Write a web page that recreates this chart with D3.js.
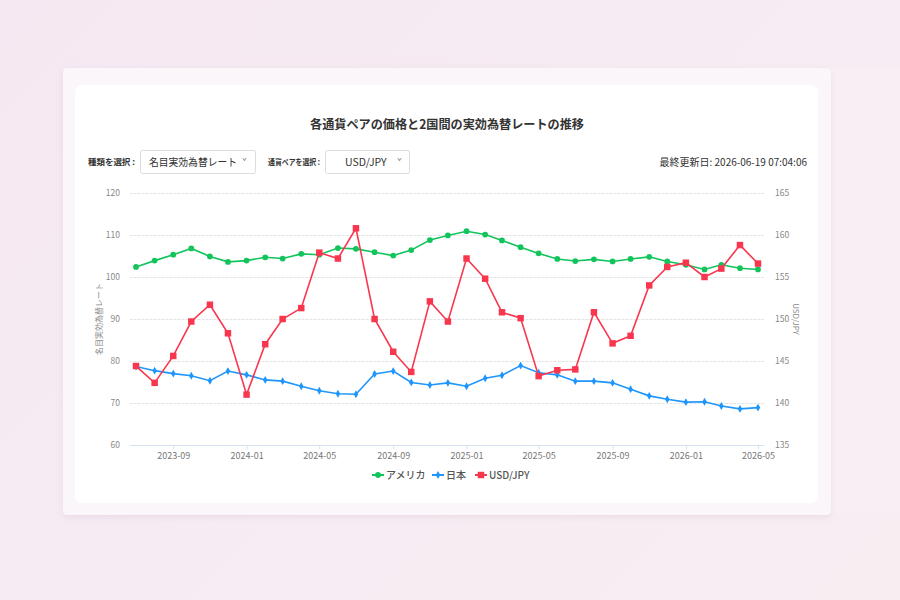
<!DOCTYPE html>
<html>
<head>
    <meta charset="utf-8">
    <title>実効為替レートの推移</title>
    <script src="https://d3js.org/d3.v7.min.js"></script>
    <style>
        html, body { margin: 0; padding: 0; }
        body { width: 900px; height: 600px; overflow: hidden;
               background: linear-gradient(135deg, #f5e8f2 0%, #f6ecf3 60%, #f7eef2 100%); }
        svg text { font-family: "Noto Sans CJK JP", "Noto Sans", sans-serif; }
    </style>
</head>
<body>
    <script>
        // data
        var months = ["2023-07","2023-08","2023-09","2023-10","2023-11","2023-12",
            "2024-01","2024-02","2024-03","2024-04","2024-05","2024-06","2024-07","2024-08","2024-09","2024-10","2024-11","2024-12",
            "2025-01","2025-02","2025-03","2025-04","2025-05","2025-06","2025-07","2025-08","2025-09","2025-10","2025-11","2025-12",
            "2026-01","2026-02","2026-03","2026-04","2026-05"];
        var usa = [102.4,103.9,105.3,106.8,104.9,103.6,103.9,104.7,104.4,105.5,105.3,106.9,106.7,105.9,105.1,106.4,108.8,109.9,
            110.9,110.1,108.7,107.1,105.6,104.3,103.8,104.2,103.7,104.3,104.8,103.7,102.9,101.8,102.9,102.1,101.8];
        var japan = [78.7,77.7,77.0,76.5,75.3,77.6,76.7,75.5,75.2,74.0,72.9,72.2,72.1,76.9,77.6,74.9,74.3,74.8,
            74.0,75.9,76.6,78.9,77.2,76.7,75.2,75.2,74.8,73.3,71.7,70.9,70.2,70.3,69.3,68.6,68.9];
        var usdjpy = [144.4,142.4,145.6,149.7,151.7,148.3,141.0,147.0,150.0,151.3,157.9,157.2,160.8,150.0,146.1,143.7,152.1,149.7,
            157.2,154.8,150.8,150.1,143.2,143.9,144.0,150.8,147.1,148.0,154.0,156.2,156.7,155.0,156.0,158.8,156.6];
        var leftTicks = [60,70,80,90,100,110,120];
        var rightTicks = [135,140,145,150,155,160,165];

        var green = "#12c45c", blue = "#1e96fc", red = "#f8374f";

        var width = 900, height = 600;
        var parse = d3.timeParse("%Y-%m");
        var dates = months.map(parse);

        var svg = d3.select("body").append("svg")
            .attr("width", width)
            .attr("height", height);

        // cards
        var defs = svg.append("defs");
        var f = defs.append("filter").attr("id", "sh").attr("x", "-10%").attr("y", "-10%").attr("width", "120%").attr("height", "120%");
        f.append("feDropShadow").attr("dx", 0).attr("dy", 2).attr("stdDeviation", 3).attr("flood-color", "#c9a9be").attr("flood-opacity", 0.25);

        svg.append("rect").attr("x", 831).attr("y", 68).attr("width", 69).attr("height", 445).attr("fill", "#f8eff4");
        svg.append("rect").attr("x", 63).attr("y", 68).attr("width", 768).attr("height", 447).attr("rx", 4)
            .attr("fill", "#fbf6f9").attr("filter", "url(#sh)");
        svg.append("rect").attr("x", 75).attr("y", 85).attr("width", 743).attr("height", 418).attr("rx", 7)
            .attr("fill", "#ffffff");

        // header
        svg.append("text").attr("x", 447).attr("y", 129).attr("text-anchor", "middle")
            .attr("font-size", 12.5).attr("font-weight", "bold").attr("fill", "#333")
            .attr("textLength", 274).attr("lengthAdjust", "spacingAndGlyphs")
            .text("各通貨ペアの価格と2国間の実効為替レートの推移");

        svg.append("text").attr("x", 88).attr("y", 165).attr("font-size", 8.5).attr("font-weight", "bold").attr("fill", "#333")
            .attr("textLength", 47).attr("lengthAdjust", "spacingAndGlyphs")
            .text("種類を選択 :");
        svg.append("rect").attr("x", 140.5).attr("y", 150.5).attr("width", 115).attr("height", 23).attr("rx", 2)
            .attr("fill", "#fff").attr("stroke", "#dcdcdc");
        svg.append("text").attr("x", 149).attr("y", 166).attr("font-size", 10.5).attr("fill", "#333")
            .attr("textLength", 88).attr("lengthAdjust", "spacingAndGlyphs")
            .text("名目実効為替レート");
        svg.append("text").attr("x", 242).attr("y", 165).attr("font-size", 8).attr("fill", "#777").text("ˇ");

        svg.append("text").attr("x", 268).attr("y", 165).attr("font-size", 8.5).attr("font-weight", "bold").attr("fill", "#333")
            .attr("textLength", 52).attr("lengthAdjust", "spacingAndGlyphs")
            .text("通貨ペアを選択 :");
        svg.append("rect").attr("x", 325.5).attr("y", 150.5).attr("width", 84).attr("height", 23).attr("rx", 2)
            .attr("fill", "#fff").attr("stroke", "#dcdcdc");
        svg.append("text").attr("x", 345).attr("y", 166).attr("font-size", 10.5).attr("fill", "#333").text("USD/JPY");
        svg.append("text").attr("x", 397).attr("y", 165).attr("font-size", 8).attr("fill", "#777").text("ˇ");

        svg.append("text").attr("x", 807).attr("y", 166).attr("text-anchor", "end").attr("font-size", 10).attr("fill", "#333")
            .text("最終更新日: 2026-06-19 07:04:06");

        // scales
        var plotL = 130, plotR = 764, plotT = 193, plotB = 445;
        var x = d3.scaleTime().domain(d3.extent(dates)).range([136, 758]);
        var yL = d3.scaleLinear().domain([60, 120]).range([plotB, plotT]);
        var yR = d3.scaleLinear().domain([135, 165]).range([plotB, plotT]);

        // grid: solid for left axis, dashed for right axis
        var grid = svg.append("g");
        grid.selectAll("line.gs").data(leftTicks.slice(1)).enter().append("line")
            .attr("x1", plotL).attr("x2", plotR)
            .attr("y1", function(d) { return Math.round(yL(d)) + 0.5; })
            .attr("y2", function(d) { return Math.round(yL(d)) + 0.5; })
            .style("stroke", "#f1f1f1");
        grid.selectAll("line.gd").data(rightTicks.slice(1)).enter().append("line")
            .attr("x1", plotL).attr("x2", plotR)
            .attr("y1", function(d) { return Math.round(yR(d)) + 0.5; })
            .attr("y2", function(d) { return Math.round(yR(d)) + 0.5; })
            .style("stroke", "#e4e4e4").style("stroke-dasharray", "2,2");

        // x axis
        var xAxis = d3.axisBottom(x)
            .ticks(d3.timeMonth.every(4))
            .tickFormat(d3.timeFormat("%Y-%m"))
            .tickSize(4).tickPadding(3);
        var gx = svg.append("g").attr("transform", "translate(0," + (plotB + 0.5) + ")").call(xAxis);
        gx.select(".domain").attr("d", "M" + plotL + ",0H" + plotR).style("stroke", "#d6e2f0");
        gx.selectAll(".tick line").style("stroke", "#d6e2f0");
        gx.selectAll(".tick text").attr("font-size", 9).attr("fill", "#777")
            .style("font-family", "'Noto Sans CJK JP', sans-serif");

        // y axes (labels only)
        var gyl = svg.append("g").attr("transform", "translate(" + (plotL - 10) + ",0)")
            .call(d3.axisLeft(yL).tickValues(leftTicks).tickSize(0).tickPadding(0));
        gyl.select(".domain").remove();
        gyl.selectAll(".tick text").attr("font-size", 8.5).attr("fill", "#888")
            .style("font-family", "'Noto Sans CJK JP', sans-serif");
        var gyr = svg.append("g").attr("transform", "translate(" + (plotR + 11) + ",0)")
            .call(d3.axisRight(yR).tickValues(rightTicks).tickSize(0).tickPadding(0));
        gyr.select(".domain").remove();
        gyr.selectAll(".tick text").attr("font-size", 8.5).attr("fill", "#888")
            .style("font-family", "'Noto Sans CJK JP', sans-serif");

        svg.append("text").attr("transform", "translate(102,319) rotate(-90)").attr("text-anchor", "middle")
            .attr("font-size", 8).attr("fill", "#888").text("名目実効為替レート");
        svg.append("text").attr("transform", "translate(793,319) rotate(90)").attr("text-anchor", "middle")
            .attr("font-size", 8).attr("fill", "#888").text("USD/JPY");

        // series
        var series = [
            { name: "アメリカ", values: usa, y: yL, color: green, symbol: d3.symbolCircle, size: 26 },
            { name: "日本", values: japan, y: yL, color: blue, symbol: d3.symbolDiamond, size: 18 },
            { name: "USD/JPY", values: usdjpy, y: yR, color: red, symbol: d3.symbolSquare, size: 42 }
        ];

        var drawOrder = [series[1], series[0], series[2]];
        drawOrder.forEach(function(s) {
            var line = d3.line()
                .x(function(d, i) { return x(dates[i]); })
                .y(function(d) { return s.y(d); });
            var g = svg.append("g");
            g.append("path").datum(s.values)
                .attr("d", line)
                .attr("fill", "none")
                .style("stroke", s.color)
                .style("stroke-width", 1.6);
            g.selectAll("path.pt").data(s.values).enter().append("path")
                .attr("class", "pt")
                .attr("transform", function(d, i) { return "translate(" + x(dates[i]) + "," + s.y(d) + ")"; })
                .attr("d", d3.symbol().type(s.symbol).size(s.size))
                .attr("fill", s.color);
        });

        // legend
        var legX = [372, 432, 475];
        var leg = svg.append("g").selectAll("g").data(series).enter().append("g")
            .attr("transform", function(d, i) { return "translate(" + legX[i] + ",475)"; });
        leg.append("line").attr("x1", 0).attr("x2", 12).attr("y1", 0).attr("y2", 0)
            .style("stroke", function(d) { return d.color; }).style("stroke-width", 2);
        leg.append("path").attr("transform", "translate(6,0)")
            .attr("d", function(d) { return d3.symbol().type(d.symbol).size(d.size)(); })
            .attr("fill", function(d) { return d.color; });
        leg.append("text").attr("x", 14).attr("y", 3.5).attr("font-size", 10).attr("font-weight", 500).attr("fill", "#555")
            .text(function(d) { return d.name; });
    </script>
</body>
</html>
